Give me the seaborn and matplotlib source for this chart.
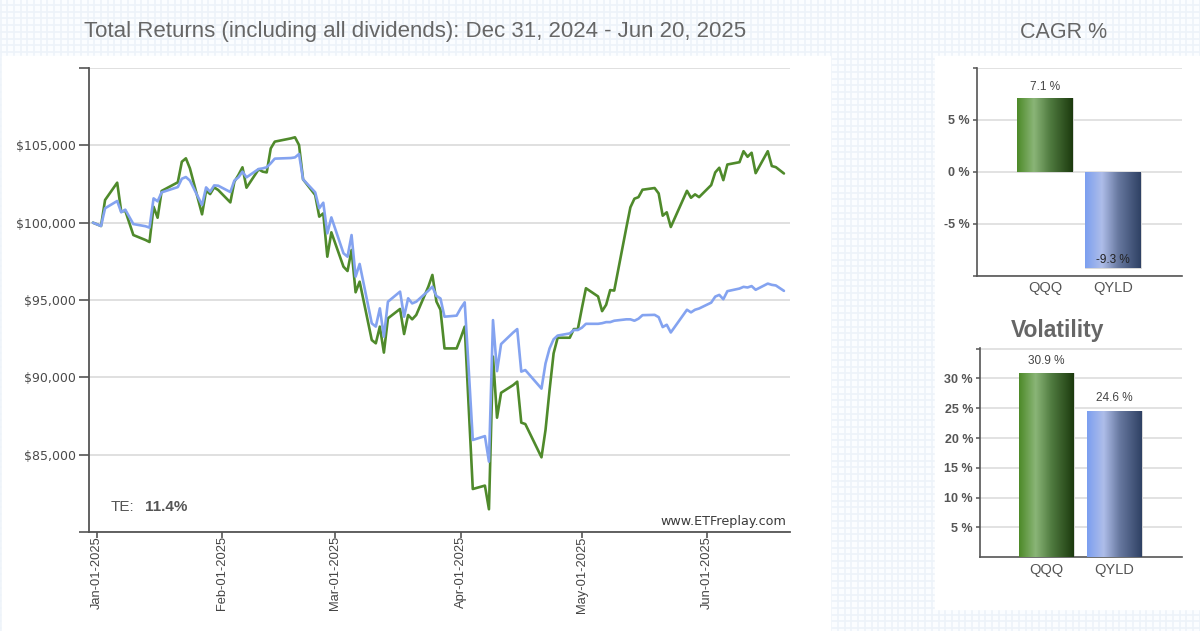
import numpy as np
import pandas as pd
import matplotlib
matplotlib.use('Agg')
import matplotlib.pyplot as plt
from matplotlib.colors import LinearSegmentedColormap
from matplotlib.patches import Rectangle
import seaborn as sns

# daily values
dates = ['2024-12-31', '2025-01-02', '2025-01-03', '2025-01-06', '2025-01-07', '2025-01-08', '2025-01-10',
         '2025-01-13', '2025-01-14', '2025-01-15', '2025-01-16', '2025-01-17', '2025-01-21', '2025-01-22',
         '2025-01-23', '2025-01-24', '2025-01-27', '2025-01-28', '2025-01-29', '2025-01-30', '2025-01-31',
         '2025-02-03', '2025-02-04', '2025-02-05', '2025-02-06', '2025-02-07', '2025-02-10', '2025-02-11',
         '2025-02-12', '2025-02-13', '2025-02-14', '2025-02-18', '2025-02-19', '2025-02-20', '2025-02-21',
         '2025-02-24', '2025-02-25', '2025-02-26', '2025-02-27', '2025-02-28', '2025-03-03', '2025-03-04',
         '2025-03-05', '2025-03-06', '2025-03-07', '2025-03-10', '2025-03-11', '2025-03-12', '2025-03-13',
         '2025-03-14', '2025-03-17', '2025-03-18', '2025-03-19', '2025-03-20', '2025-03-21', '2025-03-24',
         '2025-03-25', '2025-03-26', '2025-03-27', '2025-03-28', '2025-03-31', '2025-04-01', '2025-04-02',
         '2025-04-03', '2025-04-04', '2025-04-07', '2025-04-08', '2025-04-09', '2025-04-10', '2025-04-11',
         '2025-04-14', '2025-04-15', '2025-04-16', '2025-04-17', '2025-04-21', '2025-04-22', '2025-04-23',
         '2025-04-24', '2025-04-25', '2025-04-28', '2025-04-29', '2025-04-30', '2025-05-01', '2025-05-02',
         '2025-05-05', '2025-05-06', '2025-05-07', '2025-05-08', '2025-05-09', '2025-05-12', '2025-05-13',
         '2025-05-14', '2025-05-15', '2025-05-16', '2025-05-19', '2025-05-20', '2025-05-21', '2025-05-22',
         '2025-05-23', '2025-05-27', '2025-05-28', '2025-05-29', '2025-05-30', '2025-06-02', '2025-06-03',
         '2025-06-04', '2025-06-05', '2025-06-06', '2025-06-09', '2025-06-10', '2025-06-11', '2025-06-12',
         '2025-06-13', '2025-06-16', '2025-06-17', '2025-06-18', '2025-06-20']

qqq = [100000, 99785, 101465, 102585, 100710, 100775, 99200,
       98880, 98750, 101030, 100320, 102050, 102610, 103940,
       104160, 103510, 100540, 102070, 101850, 102280, 102110,
       101310, 102650, 103080, 103580, 102260, 103450, 103300,
       103250, 104800, 105240, 105450, 105520, 105020, 102800,
       101790, 100390, 100600, 97800, 99375, 97155, 96875,
       98230, 95500, 96185, 92410, 92200, 93280, 91600,
       93815, 94420, 92800, 94030, 93750, 94030, 95860,
       96620, 94900, 94370, 91870, 91870, 92540, 93276,
       88000, 82780, 83000, 81470, 91340, 87390, 89000,
       89500, 89720, 87070, 86980, 84830, 86600, 89180,
       91550, 92560, 92560, 93120, 93120, 94470, 95760,
       95230, 94280, 94690, 95640, 95610, 99680, 100990,
       101550, 101650, 102130, 102240, 101890, 100450, 100670,
       99720, 102060, 101610, 101830, 101650, 102430, 103250,
       103550, 102750, 103760, 103910, 104620, 104260, 104520,
       103200, 104620, 103660, 103590, 103180]

qyld = [100000, 99785, 100930, 101400, 100670, 100840, 99910,
        99770, 99680, 101570, 101380, 101960, 102300, 102840,
        102950, 102720, 101140, 102280, 102000, 102410, 102390,
        101980, 102720, 102930, 103300, 102930, 103470, 103510,
        103580, 103840, 104140, 104180, 104220, 104440, 102800,
        101960, 100930, 101290, 99310, 100340, 98020, 97800,
        99200, 96510, 97330, 93490, 93280, 94460, 92630,
        94890, 95540, 93920, 95110, 94780, 94890, 95600,
        95860, 95260, 95100, 93920, 93990, 94460, 94850,
        90470, 85950, 86200, 84550, 93700, 90400, 92150,
        92900, 93120, 90370, 90470, 89270, 90900, 91870,
        92460, 92700, 92840, 93060, 93060, 93210, 93460,
        93460, 93500, 93570, 93570, 93660, 93750, 93750,
        93660, 93790, 94020, 94040, 93890, 93250, 93400,
        92900, 94370, 94200, 94370, 94450, 94830, 95220,
        95330, 95050, 95570, 95740, 95850, 95810, 95900,
        95660, 96060, 95980, 95940, 95590]

tickers = ['QQQ', 'QYLD']
cagr = [7.1, -9.3]
volatility = [30.9, 24.6]
cagr_labels = ['7.1 %', '-9.3 %']
vol_labels = ['30.9 %', '24.6 %']
month_ticks = ['2025-01-01', '2025-02-01', '2025-03-01', '2025-04-01', '2025-05-01', '2025-06-01']
month_labels = ['Jan-01-2025', 'Feb-01-2025', 'Mar-01-2025', 'Apr-01-2025', 'May-01-2025', 'Jun-01-2025']
price_ticks = [80000, 85000, 90000, 95000, 100000, 105000, 110000]
price_labels = ['', '$85,000', '$90,000', '$95,000', '$100,000', '$105,000', '']

W, H = 1200, 631
GREEN = '#4f8a2b'
BLUE = '#84a3f0'
GRID = '#dadada'
AXIS = '#555555'
TEXT = '#666666'

sns.set_theme(style='white')
plt.rcParams['font.family'] = ['Liberation Sans', 'DejaVu Sans']


def px_axes(fig, left, top, right, bottom):
    return fig.add_axes([left / W, 1 - bottom / H, (right - left) / W, (bottom - top) / H])


def gradient_bars(ax, palettes):
    ylim, xlim = ax.get_ylim(), ax.get_xlim()
    for bar, colors in zip(ax.patches, palettes):
        cmap = LinearSegmentedColormap.from_list('bar', colors)
        x0, y0, w, h = bar.get_x(), bar.get_y(), bar.get_width(), bar.get_height()
        im = ax.imshow(np.linspace(0, 1, 128).reshape(1, -1), cmap=cmap, aspect='auto', zorder=3,
                       extent=[x0, x0 + w, y0, y0 + h])
        im.set_clip_path(bar)
        bar.set_edgecolor('#d8d8d8')
        bar.set_linewidth(0.7)
    ax.set_xlim(xlim)
    ax.set_ylim(ylim)


def style_small(ax):
    for side in ['top', 'right']:
        ax.spines[side].set_visible(False)
    for side in ['left', 'bottom']:
        ax.spines[side].set_color(AXIS)
        ax.spines[side].set_linewidth(1.2)
    ax.yaxis.grid(True, color=GRID, linewidth=1.1)
    ax.xaxis.grid(False)
    ax.set_axisbelow(True)
    ax.set_xlabel('')
    ax.set_ylabel('')
    ax.tick_params(axis='y', left=True, length=3, width=1.1, color=AXIS, pad=2, labelcolor='#555555')
    for label in ax.get_yticklabels():
        label.set_fontsize(9)
        label.set_fontweight('bold')
    ax.tick_params(axis='x', bottom=False, length=0, labelsize=10.5, labelcolor='#555555', pad=4)


green_grad = [(0, '#4d8a28'), (0.3, '#8ab577'), (0.6, '#4f7a3f'), (1, '#1c3a0e')]
blue_grad = [(0, '#7c9ff0'), (0.3, '#aebde9'), (0.6, '#67789f'), (1, '#2f4164')]

fig = plt.figure(figsize=(W / 100, H / 100), dpi=100, facecolor='#fbfdff')

# squared paper background with white panels
bg = fig.add_axes([0, 0, 1, 1], zorder=-1)
bg.set_xlim(0, W)
bg.set_ylim(H, 0)
bg.axis('off')
for x in np.arange(0.5, W, 6.7):
    bg.axvline(x, color='#edf3f9', linewidth=1.2)
for y in np.arange(5, H, 6.7):
    bg.axhline(y, color='#edf3f9', linewidth=1.2)
bg.add_patch(Rectangle((2, 56), 828, 580, color='white', zorder=3))
bg.add_patch(Rectangle((935, 56), 270, 553, color='white', zorder=3))

# main line chart
df = pd.DataFrame({'date': pd.to_datetime(dates), 'QQQ': qqq, 'QYLD': qyld})
ax = px_axes(fig, 88.5, 68, 790, 532)
ax.patch.set_alpha(0)
sns.lineplot(data=df, x='date', y='QQQ', color=GREEN, linewidth=1.9, ax=ax, zorder=3)
sns.lineplot(data=df, x='date', y='QYLD', color=BLUE, linewidth=1.9, ax=ax, zorder=4)
jan1 = pd.Timestamp('2025-01-01')
ax.set_xlim(jan1 - pd.Timedelta(days=2.1), jan1 + pd.Timedelta(days=171.5))
ax.set_ylim(80000, 110000)
ax.set_yticks(price_ticks)
ax.set_yticklabels(price_labels, family='DejaVu Sans', fontsize=9, color='#4a4a4a')
ax.set_xticks(pd.to_datetime(month_ticks))
ax.set_xticklabels(month_labels, rotation=90, fontsize=9.3, color='#444444')
ax.tick_params(axis='y', left=True, length=7, width=1.2, color=AXIS, pad=2)
ax.tick_params(axis='x', bottom=True, length=4, width=1.2, color=AXIS, pad=-1)
ax.yaxis.grid(True, color=GRID, linewidth=1.2)
ax.xaxis.grid(False)
ax.set_axisbelow(True)
ax.set_xlabel('')
ax.set_ylabel('')
for side in ['top', 'right']:
    ax.spines[side].set_visible(False)
for side in ['left', 'bottom']:
    ax.spines[side].set_color(AXIS)
    ax.spines[side].set_linewidth(1.3)
fig.text(111 / W, 1 - 507 / H, 'TE:', fontsize=11, color='#555555', va='center')
fig.text(145 / W, 1 - 507 / H, '11.4%', fontsize=11, color='#555555', va='center', weight='bold')
fig.text(786 / W, 1 - 521 / H, 'www.ETFreplay.com', family='DejaVu Sans', fontsize=9.2, color='#3a3a3a',
         ha='right', va='center')

# CAGR bars
ax2 = px_axes(fig, 977, 68, 1181.7, 275.7)
ax2.patch.set_alpha(0)
sns.barplot(x=tickers, y=cagr, ax=ax2, width=0.81, color='white', zorder=2)
ax2.set_xlim(-1, 2.01)
ax2.set_ylim(-10, 10)
ax2.set_yticks([-10, -5, 0, 5, 10])
ax2.set_yticklabels(['', '-5 %', '0 %', '5 %', ''])
style_small(ax2)
gradient_bars(ax2, [green_grad, blue_grad])
ax2.text(0, 7.1 + 1.1, cagr_labels[0], ha='center', va='center', fontsize=8.5, color='#444444', zorder=5)
ax2.text(1, -9.3 + 0.8, cagr_labels[1], ha='center', va='center', fontsize=8.5, color='#222222', zorder=5)

# volatility bars
ax3 = px_axes(fig, 980, 348, 1181.7, 557.3)
ax3.patch.set_alpha(0)
sns.barplot(x=tickers, y=volatility, ax=ax3, width=0.81, color='white', zorder=2)
ax3.set_xlim(-0.988, 2.0)
ax3.set_ylim(0, 35.1)
ax3.set_yticks([5, 10, 15, 20, 25, 30, 35])
ax3.set_yticklabels(['5 %', '10 %', '15 %', '20 %', '25 %', '30 %', ''])
style_small(ax3)
gradient_bars(ax3, [green_grad, blue_grad])
for i, label in enumerate(vol_labels):
    ax3.text(i, volatility[i] + 2.1, label, ha='center', va='center', fontsize=8.5, color='#444444', zorder=5)

# headings
fig.text(84 / W, 1 - 32 / H, 'Total Returns (including all dividends): Dec 31, 2024 - Jun 20, 2025',
         fontsize=16, color=TEXT, va='center')
fig.text(1064 / W, 1 - 32 / H, 'CAGR %', fontsize=15.5, color=TEXT, ha='center', va='center')
fig.text(1058 / W, 1 - 330 / H, 'Volatility', fontsize=16.5, weight='bold', color=TEXT, ha='center', va='center')

fig.savefig('out.png', dpi=100, facecolor=fig.get_facecolor())
